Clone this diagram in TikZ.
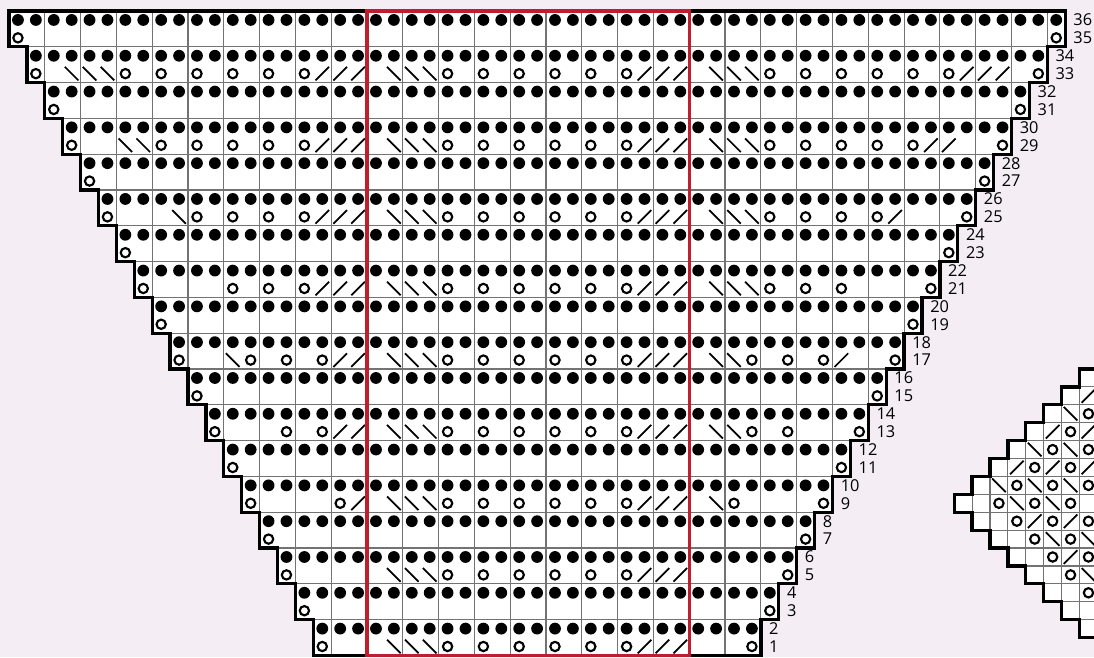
\documentclass[tikz,border=0pt]{standalone}
\usepackage{fontspec}
\setmainfont{Open Sans}
\usepackage{xcolor}
\usepackage{tikz}
\definecolor{chartbg}{RGB}{244,238,244}
\definecolor{repeatred}{RGB}{190,30,45}
\definecolor{gridgray}{RGB}{115,115,115}

\tikzset{
  cellgrid/.style={draw=gridgray, line width=0.9pt},
  chartedge/.style={draw=black, line width=2.6pt},
  repeatbox/.style={draw=repeatred, line width=2.6pt},
  rowlabel/.style={anchor=west, inner sep=0pt, font=\fontsize{13}{15}\selectfont},
  purldot/.pic={\fill (0,0) circle (0.33);},
  yarnover/.pic={\draw[line width=1.7pt] (0,0) circle (0.26);},
  ktwotog/.pic={\draw[line width=1.4pt] (-0.38,-0.38) -- (0.38,0.38);},
  sskdec/.pic={\draw[line width=1.4pt] (-0.38,0.38) -- (0.38,-0.38);}
}

\begin{document}
\begin{tikzpicture}[x=0.5cm, y=0.5cm]
    \useasboundingbox[fill=chartbg] (-0.503,-0.09) rectangle (60.61,36.615);
    \clip (-0.503,-0.09) rectangle (60.61,36.615);

    % main chart: body and grid
    \path[fill=white, save path=\mainedge] (0,36) -- (59,36)
        \foreach \k in {18,...,1} { -- ({41+\k},{2*\k}) -- ({41+\k},{2*\k-2}) }
        \foreach \k in {1,...,18} { -- ({18-\k},{2*\k-2}) -- ({18-\k},{2*\k}) } -- cycle;
    \foreach \k in {1,...,18} {
        \pgfmathtruncatemacro\lo{18-\k}
        \pgfmathtruncatemacro\hi{40+\k}
        \draw[cellgrid] (\lo,2*\k-2) grid (\hi+1,2*\k);
        \foreach \c in {\lo,...,\hi}
            \pic at (\c+0.5,2*\k-0.5) {purldot};
        \pic at (\lo+0.5,2*\k-1.5) {yarnover};
        \pic at (\hi+0.5,2*\k-1.5) {yarnover};
    }

    % lace rows, red repeat
    \foreach \r in {1,5,...,33} {
        \foreach \c in {21,22,23} \pic at (\c+0.5,\r-0.5) {sskdec};
        \foreach \c in {24,26,...,34} \pic at (\c+0.5,\r-0.5) {yarnover};
        \foreach \c in {35,36,37} \pic at (\c+0.5,\r-0.5) {ktwotog};
    }
    % lace rows, side parts (right side mirrored)
    \foreach \r/\cols in {33/{3,4,5}, 29/{6,7}, 25/{9}, 17/{12}}
        \foreach \c in \cols {
            \pic at (\c+0.5,\r-0.5) {sskdec};
            \pic at (58.5-\c,\r-0.5) {ktwotog};
        }
    \foreach \r/\cols in {33/{6,8,...,16}, 29/{8,10,...,16}, 25/{10,12,14,16},
                          21/{12,14,16}, 17/{13,15,17}, 13/{15,17}, 9/{18}}
        \foreach \c in \cols {
            \pic at (\c+0.5,\r-0.5) {yarnover};
            \pic at (58.5-\c,\r-0.5) {yarnover};
        }
    \foreach \r/\cols in {33/{17,18,19}, 29/{17,18,19}, 25/{17,18,19},
                          21/{17,18,19}, 17/{18,19}, 13/{18,19}, 9/{19}}
        \foreach \c in \cols {
            \pic at (\c+0.5,\r-0.5) {ktwotog};
            \pic at (58.5-\c,\r-0.5) {sskdec};
        }

    \draw[chartedge, use path=\mainedge];
    \draw[repeatbox] (20,0) rectangle (38,36);

    % row numbers
    \foreach \r in {1,...,36} {
        \pgfmathtruncatemacro\k{(\r+1)/2}
        \node[rowlabel] (lbl\r) at ({41.45+\k},\r-0.5) {\r};
    }

    % diamond chart
    \begin{scope}[shift={(52.8,0)}]
        \path[fill=white, save path=\diamondedge] (10,16) -- (7,16)
            \foreach \i in {0,...,14} { -- ({abs(7-\i)},{16-\i}) -- ({abs(7-\i)},{15-\i}) }
            -- (10,1) -- cycle;
        \foreach \i in {0,...,14} {
            \pgfmathtruncatemacro\l{abs(7-\i)}
            \foreach \j in {\l,...,9}
                \draw[cellgrid] (\j,15-\i) rectangle ++(1,1);
        }
        \foreach \i/\j/\s in {1/7/ktwotog,
                2/6/sskdec, 2/7/yarnover,
                3/5/ktwotog, 3/6/yarnover, 3/7/ktwotog,
                4/4/sskdec, 4/5/yarnover, 4/6/sskdec, 4/7/yarnover,
                5/3/ktwotog, 5/4/yarnover, 5/5/ktwotog, 5/6/yarnover, 5/7/ktwotog,
                6/2/sskdec, 6/3/yarnover, 6/4/sskdec, 6/5/yarnover, 6/6/sskdec, 6/7/yarnover,
                7/2/yarnover, 7/3/sskdec, 7/4/yarnover, 7/5/sskdec, 7/6/yarnover,
                8/3/yarnover, 8/4/ktwotog, 8/5/yarnover, 8/6/ktwotog, 8/7/yarnover,
                9/4/yarnover, 9/5/sskdec, 9/6/yarnover, 9/7/sskdec,
                10/5/yarnover, 10/6/ktwotog, 10/7/yarnover,
                11/6/yarnover, 11/7/sskdec,
                12/7/yarnover}
            \pic at (\j+0.5,15.5-\i) {\s};
        \draw[chartedge, use path=\diamondedge];
    \end{scope}
\end{tikzpicture}
\end{document}
